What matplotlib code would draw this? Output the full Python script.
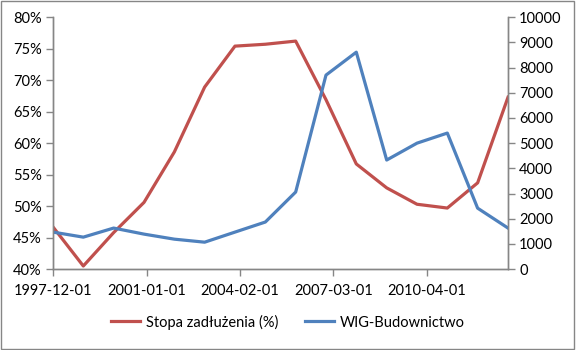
import datetime as dt
import matplotlib
matplotlib.use("Agg")
import matplotlib.pyplot as plt
from matplotlib.patches import Rectangle
from matplotlib.ticker import FuncFormatter


# annual observations, 1997-12-01 .. 2012-12-01
years = list(range(1997, 2013))
debt_ratio = [46.7, 40.5, 45.8, 50.6, 58.6, 68.9, 75.4, 75.7, 76.2, 66.9,
              56.7, 52.9, 50.3, 49.7, 53.7, 67.3]
wig_bud = [1470, 1270, 1630, 1390, 1190, 1070, 1470, 1870, 3060, 7700,
           8610, 4330, 5000, 5400, 2420, 1630]
tick_labels = ["1997-12-01", "2001-01-01", "2004-02-01", "2007-03-01", "2010-04-01"]

RED = "#C0504D"
BLUE = "#4F81BD"
AXIS_GRAY = "#868686"

plt.rcParams["font.family"] = ["Lato", "DejaVu Sans"]
plt.rcParams["font.size"] = 10.5

dates = [dt.date(y, 12, 1) for y in years]
tick_dates = [dt.datetime.strptime(s, "%Y-%m-%d").date() for s in tick_labels]

fig = plt.figure(figsize=(5.76, 3.5), dpi=100)
ax = fig.add_axes([0.092, 0.231, 0.790, 0.720])
ax2 = ax.twinx()

l1, = ax.plot(dates, debt_ratio, color=RED, lw=2.3, solid_joinstyle="round")
l2, = ax2.plot(dates, wig_bud, color=BLUE, lw=2.3, solid_joinstyle="round")

ax.set_xlim(dates[0], dates[-1])
ax.set_ylim(40, 80)
ax.set_yticks(range(40, 81, 5))
ax.yaxis.set_major_formatter(FuncFormatter(lambda v, p: "%d%%" % v))
ax2.set_ylim(0, 10000)
ax2.set_yticks(range(0, 10001, 1000))

ax.set_xticks(tick_dates)
ax.set_xticklabels(tick_labels)

for a in (ax, ax2):
    a.spines["top"].set_visible(False)
    for side in ("left", "right", "bottom"):
        a.spines[side].set_color(AXIS_GRAY)
        a.spines[side].set_linewidth(1.0)
    a.tick_params(color=AXIS_GRAY, length=5, width=1.0, labelcolor="black", pad=3)
ax.tick_params(axis="x", pad=6)

fig.legend([l1, l2], ["Stopa zadłużenia (%)", "WIG-Budownictwo"],
           loc="center", bbox_to_anchor=(0.5, 0.08), ncol=2, frameon=False,
           handlelength=2.0, columnspacing=1.8, handletextpad=0.4)

# chart-area border like the Excel export
fig.patches.append(Rectangle((0.002, 0.003), 0.995, 0.994, transform=fig.transFigure,
                             fill=False, edgecolor=AXIS_GRAY, lw=1.0))

fig.savefig("out.png", dpi=100)
